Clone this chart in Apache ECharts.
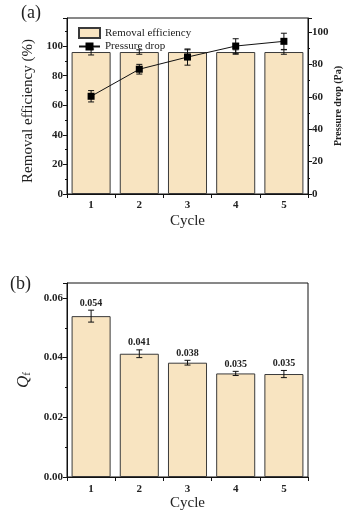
<!DOCTYPE html>
<html><head><meta charset="utf-8">
<script src="https://cdn.jsdelivr.net/npm/echarts@6/dist/echarts.min.js"></script>
<style>html,body{margin:0;padding:0;background:#fff}#c{width:358px;height:521px}</style>
</head><body><div id="c"></div>
<script>
const cycles = ['1', '2', '3', '4', '5'];
const removalEff = [96.0, 96.0, 96.0, 96.0, 96.0];
const removalErr = [2.0, 1.5, 1.5, 1.5, 1.5];
const pressureDrop = [60.3, 77.0, 84.5, 91.3, 94.2];
const pressureErr = [3.5, 3.0, 5.0, 4.5, 5.0];
const qf = [0.0539, 0.0413, 0.0383, 0.0347, 0.0345];
const qfErr = [0.0020, 0.0013, 0.0008, 0.0007, 0.0012];
const qfLabels = ['0.054', '0.041', '0.038', '0.035', '0.035'];
const leftTicks = [0, 20, 40, 60, 80, 100];

const SERIF = 'Liberation Serif';
const INK = '#222';
const BAR_FILL = '#f8e4c1';
const BAR_EDGE = '#3a3a3a';

function errData(vals, errs) { return vals.map((v, i) => [i, v, errs[i]]); }

function errRender(labels) {
  return function (params, api) {
    const x = api.value(0), v = api.value(1), e = api.value(2);
    const hi = api.coord([x, v + e]);
    const lo = api.coord([x, v - e]);
    const cap = 3;
    const st = { stroke: '#111', lineWidth: 1 };
    const children = [
      { type: 'line', shape: { x1: hi[0], y1: hi[1], x2: lo[0], y2: lo[1] }, style: st },
      { type: 'line', shape: { x1: hi[0] - cap, y1: hi[1], x2: hi[0] + cap, y2: hi[1] }, style: st },
      { type: 'line', shape: { x1: lo[0] - cap, y1: lo[1], x2: lo[0] + cap, y2: lo[1] }, style: st }
    ];
    if (labels) {
      children.push({
        type: 'text',
        style: {
          text: labels[params.dataIndex], x: hi[0], y: hi[1] - 2,
          align: 'center', verticalAlign: 'bottom',
          font: 'bold 10px ' + SERIF, fill: INK
        }
      });
    }
    return { type: 'group', children: children };
  };
}

const axisLineStyle = { lineStyle: { color: '#111', width: 1 } };
const tickStyle = { show: true, length: 4, lineStyle: { color: '#111' } };
const minorTick = { show: true, splitNumber: 2, length: 2, lineStyle: { color: '#111' } };
const tickLabel = { fontFamily: SERIF, fontWeight: 'bold', fontSize: 11, color: INK };

const chart = echarts.init(document.getElementById('c'), null, { renderer: 'canvas' });
chart.setOption({
  animation: false,
  backgroundColor: '#fff',
  graphic: [
    { type: 'text', left: 21, top: 4, style: { text: '(a)', font: '18px ' + SERIF, fill: INK } },
    { type: 'text', left: 10, top: 275, style: { text: '(b)', font: '18px ' + SERIF, fill: INK } }
  ],
  legend: {
    orient: 'vertical', left: 73, top: 22, itemWidth: 21, itemHeight: 10, itemGap: 2,
    textStyle: { fontFamily: SERIF, fontSize: 11, color: INK },
    data: [{ name: 'Removal efficiency', icon: 'rect' }, { name: 'Pressure drop' }]
  },
  grid: [
    { left: 67, right: 50, top: 18, height: 176, show: true, borderColor: '#111', borderWidth: 1, backgroundColor: 'transparent' },
    { left: 67, right: 50, top: 283, height: 194, show: true, borderColor: '#111', borderWidth: 1, backgroundColor: 'transparent' }
  ],
  xAxis: [
    {
      gridIndex: 0, type: 'category', data: cycles,
      name: 'Cycle', nameLocation: 'middle', nameGap: 20,
      nameTextStyle: { fontFamily: SERIF, fontSize: 15, color: INK },
      axisLine: axisLineStyle, axisTick: tickStyle, axisLabel: Object.assign({ margin: 6 }, tickLabel),
      splitLine: { show: false }
    },
    {
      gridIndex: 1, type: 'category', data: cycles,
      name: 'Cycle', nameLocation: 'middle', nameGap: 18,
      nameTextStyle: { fontFamily: SERIF, fontSize: 15, color: INK },
      axisLine: axisLineStyle, axisTick: tickStyle, axisLabel: Object.assign({ margin: 7 }, tickLabel),
      splitLine: { show: false }
    }
  ],
  yAxis: [
    {
      gridIndex: 0, type: 'value', min: 0, max: 119, interval: 20,
      name: 'Removal efficiency (%)', nameLocation: 'middle', nameGap: 25,
      nameTextStyle: { fontFamily: SERIF, fontSize: 15, color: INK, padding: [0, 10, 0, 0] },
      axisLine: Object.assign({ show: true }, axisLineStyle), axisTick: tickStyle, minorTick: minorTick,
      axisLabel: Object.assign({ margin: 4, showMaxLabel: false,
        formatter: v => leftTicks.indexOf(v) >= 0 ? String(v) : '' }, tickLabel),
      splitLine: { show: false }, minorSplitLine: { show: false }
    },
    {
      gridIndex: 0, type: 'value', min: 0, max: 108.6, interval: 20, position: 'right',
      name: 'Pressure drop (Pa)', nameLocation: 'middle', nameGap: 25, nameRotate: 90,
      nameMoveOverlap: false,
      nameTextStyle: { fontFamily: SERIF, fontSize: 10, fontWeight: 'bold', color: INK },
      axisLine: Object.assign({ show: true }, axisLineStyle), axisTick: tickStyle, minorTick: minorTick,
      axisLabel: Object.assign({ margin: 4, showMaxLabel: false,
        formatter: v => leftTicks.indexOf(v) >= 0 ? String(v) : '' }, tickLabel),
      splitLine: { show: false }, minorSplitLine: { show: false }
    },
    {
      gridIndex: 1, type: 'value', min: 0, max: 0.065, interval: 0.02,
      name: '{q|Q}{s|f}', nameLocation: 'middle', nameGap: 32,
      nameTextStyle: { color: INK, rich: {
        q: { fontFamily: SERIF, fontStyle: 'italic', fontSize: 17, color: INK },
        s: { fontFamily: SERIF, fontSize: 11, color: INK, verticalAlign: 'bottom', padding: [8, 0, 0, 0] }
      } },
      axisLine: Object.assign({ show: true }, axisLineStyle), axisTick: tickStyle, minorTick: minorTick,
      axisLabel: Object.assign({ margin: 4, showMaxLabel: false,
        formatter: v => (Math.abs(v / 0.02 - Math.round(v / 0.02)) < 1e-6) ? v.toFixed(2) : '' }, tickLabel),
      splitLine: { show: false }, minorSplitLine: { show: false }
    }
  ],
  series: [
    {
      name: 'Removal efficiency', type: 'bar', xAxisIndex: 0, yAxisIndex: 0, data: removalEff,
      barCategoryGap: '19%', z: 2,
      itemStyle: { color: BAR_FILL, borderColor: BAR_EDGE, borderWidth: 1 }
    },
    {
      type: 'custom', xAxisIndex: 0, yAxisIndex: 0, data: errData(removalEff, removalErr),
      encode: { x: 0, y: 1 }, renderItem: errRender(null), z: 3, silent: true
    },
    {
      name: 'Pressure drop', type: 'line', xAxisIndex: 0, yAxisIndex: 1, data: pressureDrop,
      symbol: 'rect', symbolSize: 7, z: 5,
      lineStyle: { color: '#111', width: 1 }, itemStyle: { color: '#000' }
    },
    {
      type: 'custom', xAxisIndex: 0, yAxisIndex: 1, data: errData(pressureDrop, pressureErr),
      encode: { x: 0, y: 1 }, renderItem: errRender(null), z: 4, silent: true
    },
    {
      type: 'bar', xAxisIndex: 1, yAxisIndex: 2, data: qf,
      barCategoryGap: '19%', z: 2,
      itemStyle: { color: BAR_FILL, borderColor: BAR_EDGE, borderWidth: 1 }
    },
    {
      type: 'custom', xAxisIndex: 1, yAxisIndex: 2, data: errData(qf, qfErr),
      encode: { x: 0, y: 1 }, renderItem: errRender(qfLabels), z: 3, silent: true
    }
  ]
});
</script></body></html>
